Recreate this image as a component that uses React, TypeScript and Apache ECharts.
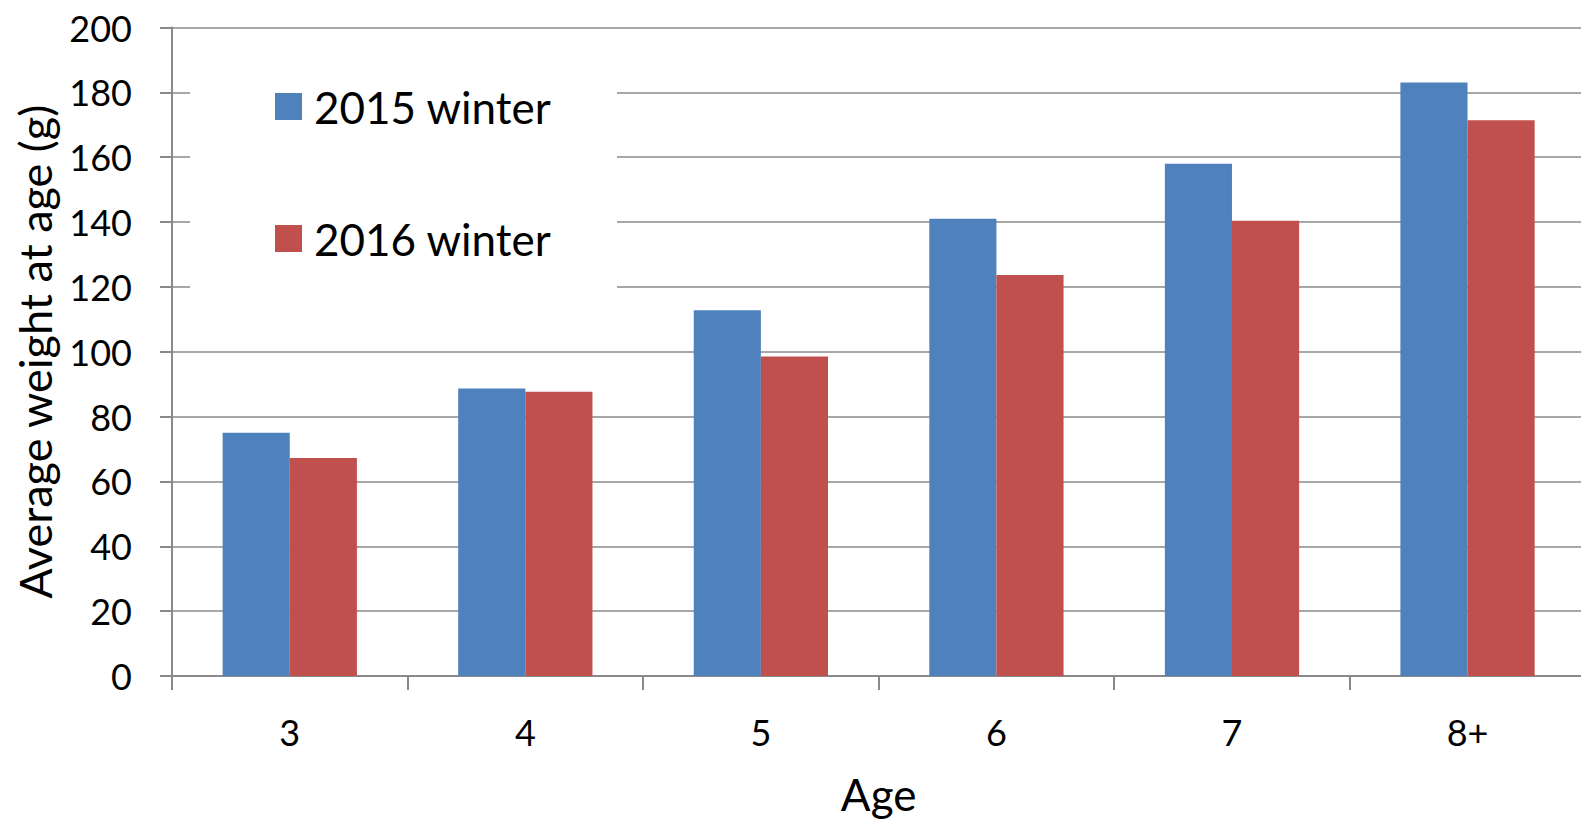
import React, { useEffect, useRef } from "react";
import * as echarts from "echarts";

const categories = ["3", "4", "5", "6", "7", "8+"];
const winter2015 = [75, 88.7, 112.8, 141, 158, 183];
const winter2016 = [67.2, 87.7, 98.5, 123.7, 140.4, 171.4];
const seriesNames = ["2015 winter", "2016 winter"];
const yAxisTitle = "Average weight at age (g)";
const xAxisTitle = "Age";

const FONT = "Lato";
const GRAY = "#8a8a8a";

export default function App() {
  const ref = useRef<HTMLDivElement>(null);
  useEffect(() => {
    document.body.style.margin = "0";
    const chart = echarts.init(ref.current!, undefined, { renderer: "svg" });
    chart.setOption({
      animation: false,
      backgroundColor: "#ffffff",
      textStyle: { fontFamily: FONT, color: "#000" },
      grid: { left: 172, right: 14.7, top: 27.5, bottom: 142.5, containLabel: false },
      legend: {
        orient: "vertical",
        left: 275,
        top: 84.5,
        padding: 0,
        itemWidth: 27,
        itemHeight: 27,
        itemGap: 88,
        icon: "rect",
        z: 5,
        textStyle: {
          fontFamily: FONT,
          fontSize: 44,
          color: "#000",
          padding: [0, 0, 0, 7],
        },
        data: seriesNames,
      },
      graphic: [
        {
          type: "rect",
          z: 1,
          silent: true,
          shape: { x: 190, y: 60, width: 427, height: 242 },
          style: { fill: "#ffffff" },
        },
      ],
      xAxis: {
        type: "category",
        data: categories,
        name: xAxisTitle,
        nameLocation: "middle",
        nameGap: 96,
        nameTextStyle: { fontFamily: FONT, fontSize: 44, color: "#000", lineHeight: 44 },
        axisLine: { lineStyle: { color: GRAY, width: 2 } },
        axisTick: { show: true, length: 14, lineStyle: { color: GRAY, width: 2 } },
        axisLabel: { fontFamily: FONT, fontSize: 36, color: "#000", margin: 38, lineHeight: 36 },
      },
      yAxis: {
        type: "value",
        min: 0,
        max: 200,
        interval: 20,
        name: yAxisTitle,
        nameLocation: "middle",
        nameRotate: 90,
        nameGap: 115,
        nameTextStyle: { fontFamily: FONT, fontSize: 45, color: "#000", lineHeight: 45 },
        axisLine: { show: true, lineStyle: { color: GRAY, width: 2 } },
        axisTick: { show: true, length: 12, lineStyle: { color: GRAY, width: 2 } },
        axisLabel: { fontFamily: FONT, fontSize: 36, color: "#000", margin: 40 },
        splitLine: { show: true, lineStyle: { color: GRAY, width: 1.5 } },
      },
      series: [
        {
          name: seriesNames[0],
          type: "bar",
          data: winter2015,
          barGap: "0%",
          barCategoryGap: "43%",
          itemStyle: { color: "#4F81BD" },
          z: 2,
        },
        {
          name: seriesNames[1],
          type: "bar",
          data: winter2016,
          barGap: "0%",
          barCategoryGap: "43%",
          itemStyle: { color: "#C0504D" },
          z: 2,
        },
      ],
    });
    return () => chart.dispose();
  }, []);
  return (
    <div style={{ width: 1581, height: 821, overflow: "hidden" }}>
      <div ref={ref} style={{ width: 1600, height: 821 }} />
    </div>
  );
}
